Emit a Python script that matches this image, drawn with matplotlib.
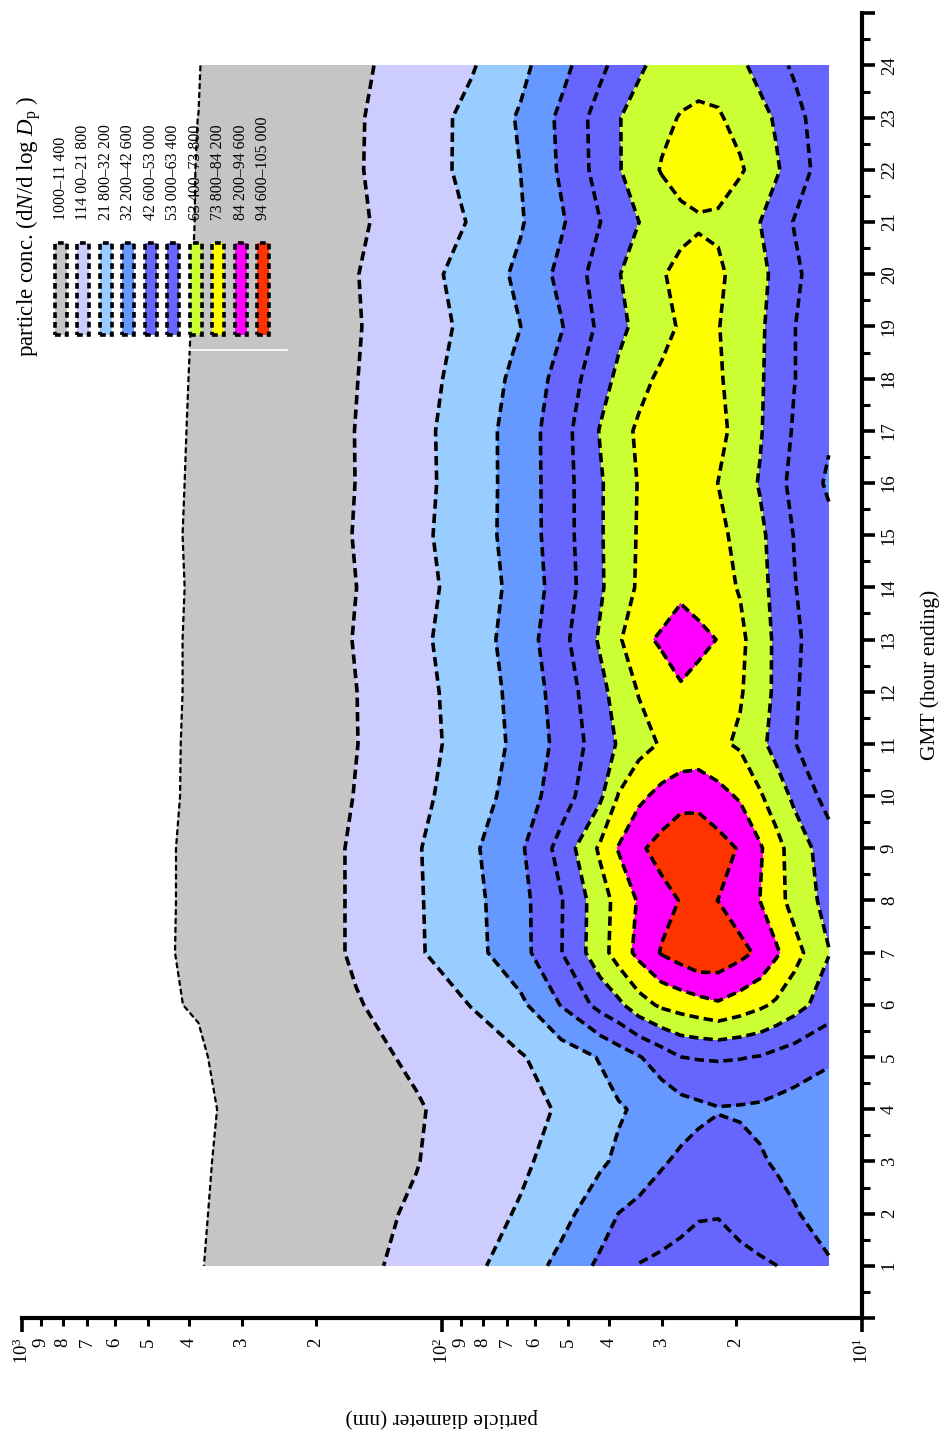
import numpy as np
import matplotlib
matplotlib.use("Agg")
import matplotlib.pyplot as plt
from matplotlib.patches import Rectangle
from matplotlib.lines import Line2D
from matplotlib.ticker import FixedLocator, FuncFormatter

plt.rcParams.update({
    "font.family": "Liberation Serif",
    "mathtext.fontset": "custom",
    "mathtext.rm": "Liberation Serif",
    "mathtext.it": "Liberation Serif:italic",
    "mathtext.bf": "Liberation Serif:bold",
    "lines.dashed_pattern": [2.6, 1.4],
})

# ── data: hourly size distributions (dN/dlogDp, cm^-3) ─────────────────────
HOURS = np.arange(1, 25)
DIAMETERS = np.array([1000, 500, 380, 250, 160, 115, 85, 65, 52, 42, 38, 34,
                      30, 27, 24.5, 22, 19.5, 17.5, 16, 14.5, 12])
CONC = np.array([
    [100, 300, 700, 4900, 9400, 13800, 19600, 26800, 35000, 44600, 49200, 53400, 55100, 56600, 58000, 57500, 55800, 54400, 53100, 51000, 43500],
    [100, 250, 500, 4500, 8800, 12500, 17700, 22700, 29200, 37700, 42700, 45100, 47800, 50000, 52100, 52500, 49800, 47500, 45500, 43300, 39000],
    [100, 150, 330, 4100, 8100, 11100, 15800, 20200, 25200, 30800, 33800, 37500, 41600, 44300, 46500, 48100, 45600, 43400, 41800, 40100, 37000],
    [20, 50, 100, 3800, 7700, 10700, 14700, 18900, 22700, 28500, 31200, 33600, 36000, 38500, 40300, 42000, 41600, 41000, 39900, 38700, 37000],
    [100, 200, 490, 4600, 9000, 12700, 17100, 21000, 26700, 32900, 37200, 41900, 47600, 52950, 53700, 54000, 53500, 52500, 50000, 47900, 44000],
    [100, 400, 1270, 6200, 10700, 16300, 22100, 30000, 43100, 56300, 61100, 69500, 75600, 78100, 80300, 82800, 79300, 75700, 72200, 67500, 58000],
    [100, 400, 1530, 2700, 12800, 20500, 28800, 39000, 52700, 69700, 78400, 86900, 95400, 99400, 103100, 101900, 97500, 92600, 85700, 77500, 63800],
    [100, 400, 1490, 2100, 12900, 20700, 29300, 39400, 52400, 69200, 77300, 85200, 91100, 95100, 96400, 94500, 89100, 84150, 77400, 70300, 60000],
    [100, 400, 1490, 2100, 12900, 20900, 30400, 41100, 56600, 75500, 84800, 92900, 98300, 102200, 102300, 98500, 93700, 85500, 77300, 69100, 58000],
    [100, 400, 1350, 1900, 11800, 19200, 27300, 36900, 48200, 61600, 74400, 81900, 87300, 90800, 91000, 87500, 82900, 75000, 68500, 61500, 49000],
    [100, 400, 1330, 6500, 11200, 18200, 25900, 34900, 45700, 58100, 64400, 70100, 74700, 76600, 77600, 75600, 72400, 65800, 60000, 53500, 44000],
    [100, 400, 1280, 6500, 11300, 18600, 26400, 35700, 47100, 60600, 67400, 74300, 79100, 83000, 80600, 77800, 74700, 68200, 61300, 54300, 45000],
    [100, 400, 1280, 2400, 11900, 19500, 27500, 37000, 49800, 64700, 72300, 81600, 85600, 89000, 86700, 83900, 76100, 68200, 61500, 54900, 46000],
    [100, 400, 1230, 6500, 11360, 18500, 26400, 35700, 47300, 62000, 69000, 75000, 78400, 82000, 79900, 76900, 73100, 66500, 60500, 53500, 45000],
    [100, 400, 1280, 2400, 11900, 19400, 27400, 36700, 48300, 62400, 68800, 74600, 77800, 80400, 78900, 75900, 71300, 65500, 59600, 52600, 45500],
    [100, 400, 1230, 5000, 11500, 18800, 27000, 36800, 48400, 62400, 68400, 74300, 77500, 80000, 77000, 73700, 68000, 62700, 56200, 50400, 41000],
    [100, 400, 1190, 2500, 11600, 19000, 27100, 36800, 48700, 64000, 70400, 75200, 78000, 80500, 78900, 75900, 71000, 64300, 58200, 52000, 44000],
    [100, 400, 1150, 6300, 11200, 18100, 25900, 35100, 46200, 59600, 65400, 71000, 75600, 78800, 78900, 74900, 69800, 64600, 59400, 53300, 45000],
    [100, 400, 1110, 6000, 10800, 17200, 24200, 32150, 42000, 55100, 61000, 65900, 70300, 75000, 75300, 74200, 68900, 64800, 60100, 53300, 45000],
    [100, 400, 1080, 6100, 11100, 18100, 25700, 34300, 45200, 57200, 62900, 67900, 73300, 75500, 77400, 75200, 70900, 65900, 61100, 55000, 46000],
    [100, 400, 1050, 5500, 10100, 15800, 22500, 31300, 41400, 52900, 57900, 63300, 68000, 72000, 72800, 72500, 67800, 63500, 58200, 52500, 44000],
    [100, 400, 1040, 5800, 10600, 17100, 24400, 32250, 44000, 56700, 62600, 68700, 74400, 76400, 78300, 77400, 74800, 70100, 64600, 58500, 47000],
    [100, 400, 1010, 5600, 10500, 16900, 24400, 33300, 44600, 57000, 62900, 67200, 71800, 74300, 75300, 74600, 71300, 66500, 62200, 56400, 46000],
    [100, 350, 890, 5200, 9900, 15000, 21000, 29600, 39500, 50800, 56200, 61900, 66600, 70000, 70600, 70500, 65200, 60200, 55800, 51600, 45000],
])

LEVELS = [1000, 11400, 21800, 32200, 42600, 53000, 63400, 73800, 84200,
          94600, 105000]
BAND_COLOURS = ["#c5c5c5", "#ccccff", "#99ccff", "#6699ff", "#6666ff",
                "#6666ff", "#ccff33", "#ffff00", "#ff00ff", "#ff3300"]
LEGEND_LABELS = ["1000–11 400", "114 00–21 800", "21 800–32 200",
                 "32 200–42 600", "42 600–53 000", "53 000–63 400",
                 "63 400–73 800", "73 800–84 200", "84 200–94 600",
                 "94 600–105 000"]
HOUR_TICKS = np.arange(0, 26)
DIAM_MAJOR = [10, 100, 1000]
DIAM_MINOR = [m * 10 ** e for e in (1, 2) for m in range(2, 10)]

# ── figure (drawn sideways, like the printed page) ─────────────────────────
W, H = 941, 1432
fig = plt.figure(figsize=(W / 100, H / 100), dpi=100)


def fx(px):
    return px / W


def fy(py):
    return 1 - py / H


ax = fig.add_axes([fx(22), fy(1318), (862 - 22) / W, (1318 - 13.3) / H])

# contour in log10(Dp) so the bands interpolate evenly per decade
log_d = np.log10(DIAMETERS)
ax.contourf(log_d, HOURS, CONC, levels=LEVELS, colors=BAND_COLOURS)
ax.contour(log_d, HOURS, CONC, levels=LEVELS[:-1], colors="k",
           linewidths=[1.6] + [2.6] * 9, linestyles="dashed")

ax.set_xlim(3, 1)
ax.set_ylim(0, 25)

for side in ("left", "top"):
    ax.spines[side].set_visible(False)
for side in ("right", "bottom"):
    ax.spines[side].set_linewidth(3)

# diameter axis (bottom), log10 positions
ax.xaxis.set_major_locator(FixedLocator(np.log10(DIAM_MAJOR)))
ax.xaxis.set_minor_locator(FixedLocator(np.log10(DIAM_MINOR)))
ax.xaxis.set_major_formatter(FuncFormatter(
    lambda v, p: r"$\mathregular{10^{%d}}$" % round(v)))
ax.xaxis.set_minor_formatter(FuncFormatter(
    lambda v, p: "%d" % round(10 ** (v - np.floor(v + 1e-9)))))
ax.tick_params(axis="x", which="major", direction="out", length=10,
               width=2.6, labelsize=13.5, labelrotation=90, pad=4)
ax.tick_params(axis="x", which="minor", direction="out", length=5.8,
               width=2.2, labelsize=13.5, labelrotation=90, pad=8.5)

# hour axis (right)
ax.yaxis.tick_right()
ax.yaxis.set_major_locator(FixedLocator(HOUR_TICKS))
ax.yaxis.set_minor_locator(FixedLocator(HOUR_TICKS[:-1] + 0.5))
ax.yaxis.set_major_formatter(FuncFormatter(
    lambda v, p: "" if v < 1 or v > 24 else "%d" % v))
ax.tick_params(axis="y", which="major", direction="out", length=9.5,
               width=2.6, labelsize=13.5, labelrotation=90, pad=4)
ax.tick_params(axis="y", which="minor", direction="out", length=5.8,
               width=2.2)
for lbl in ax.get_yticklabels():
    lbl.set_verticalalignment("center")
    lbl.set_horizontalalignment("left")

ax.set_xlabel("particle diameter (nm)", fontsize=15.5, rotation=180)
ax.xaxis.label.set_ha("center")
ax.xaxis.label.set_va("center")
ax.xaxis.set_label_coords(0.5, -0.0766)

ax.yaxis.set_label_position("right")
ax.set_ylabel("GMT (hour ending)", fontsize=15.5, rotation=90)
ax.yaxis.label.set_rotation_mode("default")
ax.yaxis.label.set_ha("center")
ax.yaxis.label.set_va("center")
ax.yaxis.set_label_coords(1.081, 0.493)

# legend, laid out sideways by hand
fig.text(fx(29), fy(357), r"particle conc. (d$N$/d log $D_\mathrm{p}$ )",
         rotation=90, ha="center", va="bottom", fontsize=16.5)
for i, (col, lab) in enumerate(zip(BAND_COLOURS, LEGEND_LABELS)):
    cx = 60.7 + 22.5 * i
    fig.add_artist(Rectangle((fx(cx - 6), fy(335)), 12 / W, 92 / H,
                             transform=fig.transFigure, facecolor=col,
                             edgecolor="k", lw=2.6, ls=(0, (1.6, 1.1))))
    fig.text(fx(cx), fy(220), lab, rotation=90, ha="center", va="bottom",
             fontsize=11.4)
fig.add_artist(Line2D([fx(10), fx(287)], [fy(350), fy(350)], color="white",
                      lw=1.2, transform=fig.transFigure))

fig.savefig("out.png", dpi=100)
